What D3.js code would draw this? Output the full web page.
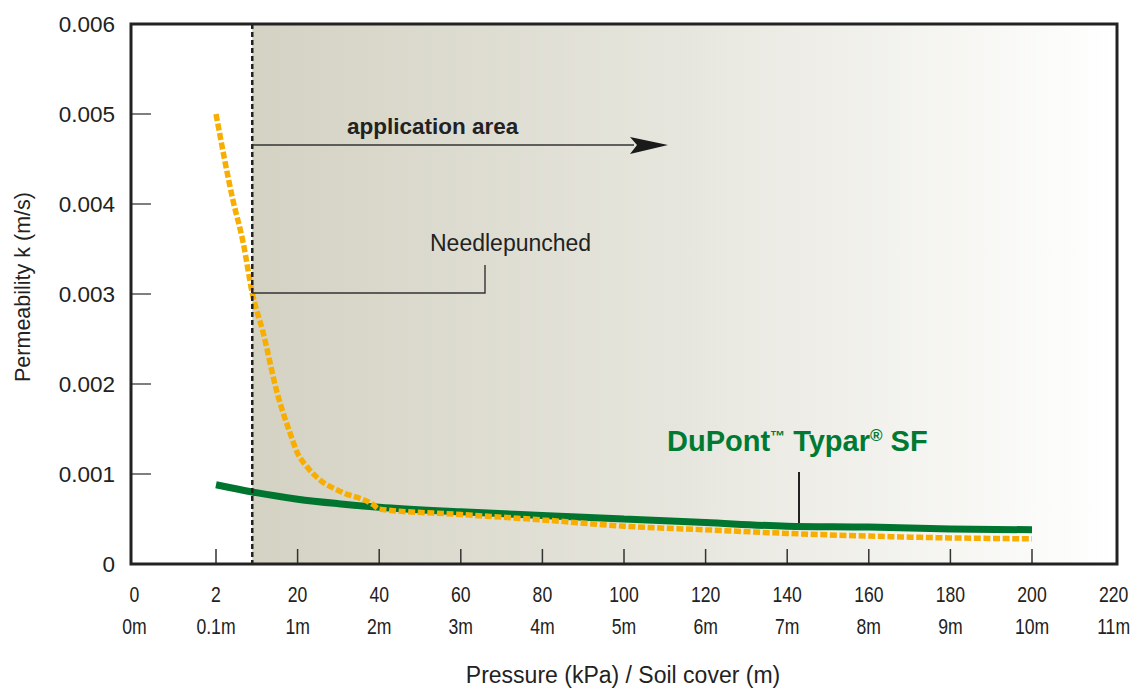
<!DOCTYPE html>
<meta charset="utf-8">
<script src="https://d3js.org/d3.v7.min.js"></script>
<style>
  body { margin: 0; background: #fff; }
  text { font-family: "Liberation Sans", Arial, sans-serif; fill: #222; }
</style>
<div id="viz"></div>
<script>
// axis data
var pressureTicks = [0, 2, 20, 40, 60, 80, 100, 120, 140, 160, 180, 200, 220];
var coverLabels = ["0m", "0.1m", "1m", "2m", "3m", "4m", "5m", "6m", "7m", "8m", "9m", "10m", "11m"];
var kTicks = [0, 0.001, 0.002, 0.003, 0.004, 0.005, 0.006];

// Needlepunched (dashed orange)
var needleP = [2, 5.75, 8, 10, 12.4, 15.5, 18.3, 20, 22.3, 25.6, 30.8, 38.5, 40, 60, 80, 100, 120, 140, 160, 180, 200];
var needleK = [0.005, 0.00404, 0.00357, 0.00301, 0.00257, 0.0019, 0.00146, 0.00123, 0.00108, 0.00093, 0.0008, 0.00066, 0.00061, 0.00055, 0.00049, 0.00042, 0.00038, 0.00034, 0.00031, 0.00029, 0.00028];

// DuPont Typar SF (green)
var typarP = [2, 10, 20, 30, 40, 60, 80, 100, 120, 140, 160, 180, 200];
var typarK = [0.00088, 0.0008, 0.00072, 0.00067, 0.00063, 0.00058, 0.00054, 0.0005, 0.00046, 0.00042, 0.00041, 0.00039, 0.00038];

var appStart = 10;   // start of application area (kPa)

var W = 1140, H = 688;
var frame = {left: 131, top: 24, right: 1117, bottom: 564};

var svg = d3.select("#viz").append("svg")
    .attr("width", W)
    .attr("height", H);

// x is evenly spaced per tick (piecewise linear)
var step = 81.6;
var x = d3.scaleLinear()
    .domain(pressureTicks)
    .range(pressureTicks.map(function (d, i) { return 134.4 + i * step; }));

var y = d3.scaleLinear()
    .domain([0, 0.006])
    .range([frame.bottom, frame.top]);

// shaded application area
var grad = svg.append("defs").append("linearGradient")
    .attr("id", "shade")
    .attr("x1", "0").attr("x2", "1").attr("y1", "0").attr("y2", "0");
grad.append("stop").attr("offset", "0%").attr("stop-color", "#d4d2c3");
grad.append("stop").attr("offset", "50%").attr("stop-color", "#e7e6de");
grad.append("stop").attr("offset", "100%").attr("stop-color", "#ffffff");

svg.append("rect")
    .attr("x", x(appStart))
    .attr("y", frame.top)
    .attr("width", frame.right - x(appStart))
    .attr("height", frame.bottom - frame.top)
    .attr("fill", "url(#shade)");

// y ticks (inside, left)
svg.append("g")
    .selectAll("line")
    .data(kTicks.slice(1, 6))
    .join("line")
      .attr("x1", frame.left).attr("x2", frame.left + 20)
      .attr("y1", function (d) { return y(d); })
      .attr("y2", function (d) { return y(d); })
      .attr("stroke", "#555")
      .attr("stroke-width", 1.5);

svg.append("g")
    .selectAll("text")
    .data(kTicks)
    .join("text")
      .attr("x", 115)
      .attr("y", function (d) { return y(d) + 8; })
      .attr("text-anchor", "end")
      .style("font-size", "22.5px")
      .text(function (d) { return d === 0 ? "0" : d3.format(".3f")(d); });

// x ticks (inside, bottom)
svg.append("g")
    .selectAll("line")
    .data(pressureTicks.slice(1, 12))
    .join("line")
      .attr("x1", function (d) { return x(d); })
      .attr("x2", function (d) { return x(d); })
      .attr("y1", frame.bottom - 15).attr("y2", frame.bottom)
      .attr("stroke", "#333")
      .attr("stroke-width", 1.5);

// condensed tick labels (squeezed horizontally)
svg.append("g")
    .selectAll("text")
    .data(pressureTicks)
    .join("text")
      .attr("transform", function (d) { return "translate(" + x(d) + ",602) scale(0.8,1)"; })
      .attr("text-anchor", "middle")
      .style("font-size", "22px")
      .text(function (d) { return d; });

svg.append("g")
    .selectAll("text")
    .data(coverLabels)
    .join("text")
      .attr("transform", function (d, i) { return "translate(" + x(pressureTicks[i]) + ",634) scale(0.8,1)"; })
      .attr("text-anchor", "middle")
      .style("font-size", "22px")
      .text(function (d) { return d; });

// axis titles
svg.append("text")
    .attr("x", 623)
    .attr("y", 683)
    .attr("text-anchor", "middle")
    .style("font-size", "23px")
    .text("Pressure (kPa) / Soil cover (m)");

svg.append("text")
    .attr("transform", "translate(30,287) rotate(-90)")
    .attr("text-anchor", "middle")
    .style("font-size", "21.5px")
    .text("Permeability k (m/s)");

// curves
var line = d3.line()
    .x(function (d) { return x(d[0]); })
    .y(function (d) { return y(d[1]); })
    .curve(d3.curveMonotoneX);

svg.append("path")
    .datum(d3.zip(typarP, typarK))
    .attr("d", line)
    .attr("fill", "none")
    .attr("stroke", "#00752f")
    .attr("stroke-width", 7);

svg.append("path")
    .datum(d3.zip(needleP, needleK))
    .attr("d", line)
    .attr("fill", "none")
    .attr("stroke", "#f8ae00")
    .attr("stroke-width", 5.5)
    .attr("stroke-dasharray", "7,2.6");

// dashed start of application area
svg.append("line")
    .attr("x1", x(appStart)).attr("x2", x(appStart))
    .attr("y1", frame.top).attr("y2", frame.bottom)
    .attr("stroke", "#222")
    .attr("stroke-width", 2.5)
    .attr("stroke-dasharray", "5,3");

// frame
svg.append("rect")
    .attr("x", frame.left)
    .attr("y", frame.top)
    .attr("width", frame.right - frame.left)
    .attr("height", frame.bottom - frame.top)
    .attr("fill", "none")
    .attr("stroke", "#222")
    .attr("stroke-width", 3);

// application area arrow
svg.append("line")
    .attr("x1", x(appStart)).attr("x2", 634)
    .attr("y1", 145).attr("y2", 145)
    .attr("stroke", "#333")
    .attr("stroke-width", 1.4);
svg.append("path")
    .attr("d", "M668,145 L630,137 L637,145 L630,154 Z")
    .attr("fill", "#1a1a1a");
svg.append("text")
    .attr("x", 347)
    .attr("y", 134)
    .style("font-size", "22.5px")
    .style("font-weight", "bold")
    .text("application area");

// Needlepunched label
svg.append("text")
    .attr("x", 430)
    .attr("y", 251)
    .style("font-size", "23px")
    .text("Needlepunched");
svg.append("path")
    .attr("d", "M" + x(appStart) + ",293 H485 V265")
    .attr("fill", "none")
    .attr("stroke", "#333")
    .attr("stroke-width", 1.4);

// DuPont Typar SF label
var lab = svg.append("text")
    .attr("x", 667)
    .attr("y", 451)
    .style("font-size", "29px")
    .style("font-weight", "bold")
    .style("fill", "#007a33");
lab.append("tspan").text("DuPont");
lab.append("tspan").attr("dy", -10).style("font-size", "15px").text("™");
lab.append("tspan").attr("dy", 10).text(" Typar");
lab.append("tspan").attr("dy", -10).style("font-size", "17px").text("®");
lab.append("tspan").attr("dy", 10).text(" SF");
svg.append("line")
    .attr("x1", 799).attr("x2", 799)
    .attr("y1", 472).attr("y2", 523)
    .attr("stroke", "#222")
    .attr("stroke-width", 2);
</script>
